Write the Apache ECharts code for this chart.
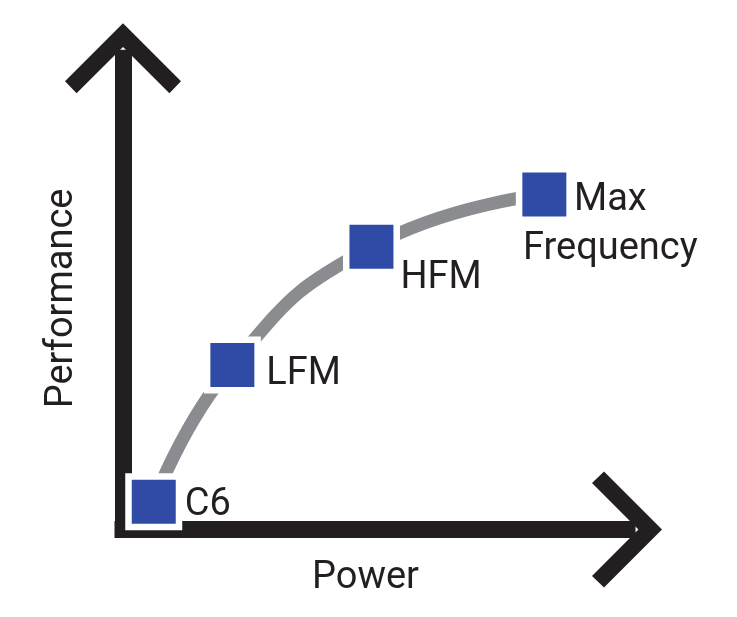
<!DOCTYPE html>
<html>
<head>
<meta charset="utf-8">
<script src="https://cdn.jsdelivr.net/npm/echarts@6/dist/echarts.min.js"></script>
<style>
html,body{margin:0;padding:0;background:#fff;}
#chart{width:737px;height:617px;}
</style>
</head>
<body>
<div id="chart"></div>
<script>
// Data
var stateNames = ['C6', 'LFM', 'HFM', 'Max\nFrequency'];
var powerValues = [6.1, 21.7, 49.3, 83.6];
var performanceValues = [5.9, 34.9, 60.0, 71.1];
var xAxisName = 'Power';
var yAxisName = 'Performance';

var ink = '#231f20';
var blue = '#2f4ba6';
var grey = '#8a8c8f';
var chevron = 'path://M58 0 L116 58 L104.4 70 L58 23.6 L11.6 70 L0 58 Z';

var labelLayouts = [
  {offset: [31, 4], align: 'left'},
  {offset: [34, 9], align: 'left'},
  {offset: [29, 32], align: 'left'},
  {offset: [66, 31], align: 'center'}
];

var points = stateNames.map(function (n, i) {
  return {
    name: n,
    value: [powerValues[i], performanceValues[i]],
    label: {
      show: true,
      formatter: n,
      position: 'inside',
      align: labelLayouts[i].align,
      verticalAlign: 'middle',
      offset: labelLayouts[i].offset
    }
  };
});
var curve = powerValues.map(function (v, i) { return [v, performanceValues[i]]; });

var axisLine = {
  show: true,
  onZero: false,
  symbol: ['none', chevron],
  symbolSize: [116, 70],
  lineStyle: {color: ink, width: 17, cap: 'square'}
};

var chart = echarts.init(document.getElementById('chart'), null, {renderer: 'canvas'});
chart.setOption({
  animation: false,
  backgroundColor: '#ffffff',
  textStyle: {fontFamily: 'Roboto'},
  grid: {left: 123, right: 110, top: 58.3, bottom: 87.5, containLabel: false, outerBoundsMode: 'none'},
  xAxis: {
    type: 'value', min: 0, max: 100,
    name: xAxisName, nameLocation: 'middle', nameGap: 30,
    nameTextStyle: {fontFamily: 'Roboto', fontSize: 38, color: ink, padding: [0, 19, 0, 0]},
    axisLine: axisLine,
    axisTick: {show: false}, axisLabel: {show: false}, splitLine: {show: false}
  },
  yAxis: {
    type: 'value', min: 0, max: 100,
    name: yAxisName, nameLocation: 'middle', nameGap: 42,
    nameTextStyle: {fontFamily: 'Roboto', fontSize: 38, color: ink, padding: [0, 9, 0, 0]},
    axisLine: axisLine,
    axisTick: {show: false}, axisLabel: {show: false}, splitLine: {show: false}
  },
  series: [
    {
      type: 'line',
      data: curve,
      smooth: 0.5,
      symbol: 'none',
      silent: true,
      z: 2,
      lineStyle: {color: grey, width: 13, cap: 'butt'}
    },
    {
      type: 'scatter',
      data: points,
      symbol: 'rect',
      symbolSize: 50.5,
      silent: true,
      z: 3,
      itemStyle: {color: blue, borderColor: '#ffffff', borderWidth: 6.5, opacity: 1},
      label: {fontFamily: 'Roboto', fontSize: 38, color: ink, lineHeight: 49}
    }
  ]
});
</script>
</body>
</html>
